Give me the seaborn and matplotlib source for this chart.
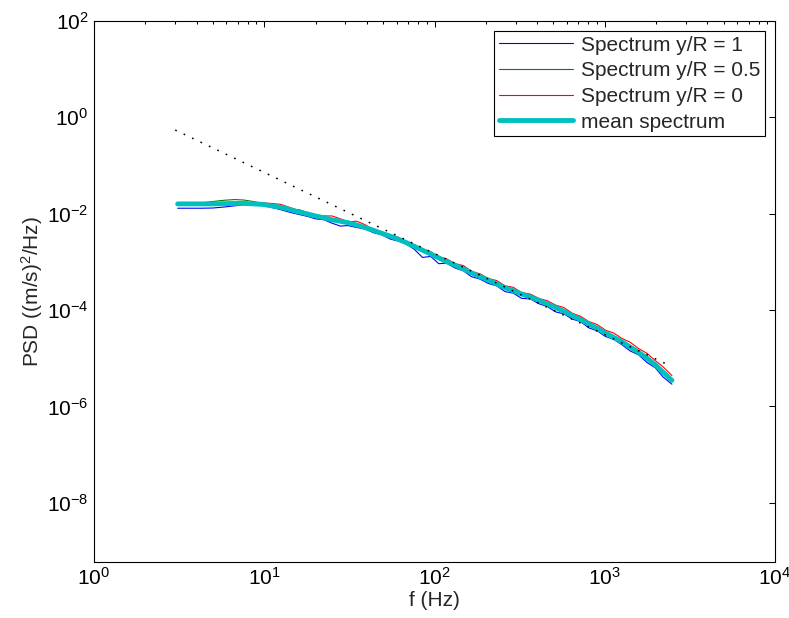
import matplotlib
matplotlib.use("Agg")
import matplotlib.pyplot as plt
import matplotlib.ticker as mticker
import numpy as np
import pandas as pd
import seaborn as sns

# ---- data ----
freq_hz = [3.1, 3.7, 4.3, 5.0, 5.8, 6.7, 7.6, 8.6, 9.8, 11,
           12.5, 14, 16, 18, 20, 22.5, 25, 28, 31, 35,
           39, 44, 49, 55, 61, 68, 76, 85, 95, 106,
           118, 132, 148, 165, 185, 207, 232, 260, 290, 325,
           365, 410, 460, 515, 575, 645, 720, 805, 900, 1010,
           1130, 1260, 1410, 1580, 1770, 1980, 2200, 2480]

# PSD values as log10 exponents
log_psd_yR1 = [-1.89, -1.89, -1.89, -1.885, -1.865, -1.84, -1.82, -1.81, -1.82, -1.87,
               -1.92, -1.97, -2.02, -2.06, -2.11, -2.13, -2.20, -2.26, -2.25, -2.29,
               -2.32, -2.40, -2.44, -2.53, -2.57, -2.63, -2.74, -2.91, -2.89, -3.04,
               -3.03, -3.13, -3.19, -3.31, -3.36, -3.45, -3.50, -3.62, -3.65, -3.76,
               -3.77, -3.87, -3.93, -4.04, -4.08, -4.19, -4.24, -4.37, -4.43, -4.55,
               -4.61, -4.72, -4.85, -4.93, -5.09, -5.20, -5.39, -5.54]
log_psd_yR05 = [-1.80, -1.80, -1.78, -1.75, -1.725, -1.71, -1.72, -1.75, -1.79, -1.85,
                -1.91, -1.93, -1.92, -1.98, -2.08, -2.11, -2.13, -2.14, -2.16, -2.22,
                -2.30, -2.35, -2.38, -2.46, -2.53, -2.58, -2.69, -2.74, -2.84, -2.89,
                -3.02, -3.05, -3.18, -3.20, -3.33, -3.36, -3.49, -3.51, -3.62, -3.65,
                -3.75, -3.76, -3.90, -3.93, -4.06, -4.09, -4.22, -4.27, -4.41, -4.46,
                -4.59, -4.65, -4.80, -4.86, -5.02, -5.13, -5.31, -5.46]
log_psd_yR0 = [-1.79, -1.79, -1.79, -1.80, -1.795, -1.79, -1.79, -1.79, -1.78, -1.79,
               -1.81, -1.87, -1.94, -2.00, -2.03, -2.05, -2.05, -2.11, -2.17, -2.16,
               -2.23, -2.34, -2.38, -2.45, -2.49, -2.59, -2.65, -2.74, -2.79, -2.90,
               -2.94, -3.04, -3.08, -3.20, -3.25, -3.35, -3.39, -3.50, -3.53, -3.64,
               -3.67, -3.76, -3.81, -3.90, -3.95, -4.07, -4.13, -4.24, -4.30, -4.42,
               -4.48, -4.59, -4.67, -4.80, -4.90, -5.05, -5.18, -5.36]
log_psd_mean = [-1.80, -1.80, -1.80, -1.80, -1.795, -1.79, -1.79, -1.80, -1.81, -1.84,
                -1.87, -1.91, -1.97, -2.01, -2.05, -2.09, -2.13, -2.16, -2.19, -2.24,
                -2.29, -2.35, -2.41, -2.47, -2.53, -2.60, -2.68, -2.76, -2.84, -2.92,
                -3.00, -3.07, -3.15, -3.23, -3.31, -3.38, -3.46, -3.54, -3.60, -3.67,
                -3.73, -3.80, -3.88, -3.95, -4.03, -4.12, -4.20, -4.29, -4.38, -4.48,
                -4.57, -4.66, -4.77, -4.88, -5.00, -5.14, -5.29, -5.46]

# -5/3 reference line endpoints
ref_freq = [3.0, 2350]
ref_psd = [0.54, 7.3e-6]

series_labels = ["Spectrum y/R = 1", "Spectrum y/R = 0.5",
                 "Spectrum y/R = 0", "mean spectrum"]
x_ticks = [1e0, 1e1, 1e2, 1e3, 1e4]
y_ticks = [1e-8, 1e-6, 1e-4, 1e-2, 1e0, 1e2]

# ---- style ----
sns.set_style("white")
plt.rcParams["font.family"] = ["Liberation Sans", "DejaVu Sans"]
plt.rcParams["mathtext.fontset"] = "custom"
plt.rcParams["mathtext.rm"] = "Liberation Sans"
plt.rcParams["mathtext.it"] = "Liberation Sans:italic"
plt.rcParams["mathtext.bf"] = "Liberation Sans:bold"
plt.rcParams["axes.unicode_minus"] = True

FS = 15
W, H = 789, 618
fig = plt.figure(figsize=(W / 100, H / 100), dpi=100)
ax = fig.add_axes([94 / W, 1 - 561.7 / H, (775 - 94) / W, (561.7 - 20.7) / H])

f_arr = np.array(freq_hz)
df = pd.DataFrame({
    "f": np.concatenate([f_arr] * 4),
    "psd": np.concatenate([10.0 ** np.array(v) for v in
                           (log_psd_yR1, log_psd_yR05, log_psd_yR0, log_psd_mean)]),
    "series": np.repeat(series_labels, len(f_arr)),
})

colors = ["#0000FF", "#007F00", "#FF0000", "#00BFBF"]
widths = [0.8, 0.8, 0.8, 3.5]
for lab, col, lw in zip(series_labels, colors, widths):
    sub = df[df["series"] == lab]
    sns.lineplot(data=sub, x="f", y="psd", ax=ax, color=col, lw=lw,
                 label=lab, estimator=None, sort=False)

ax.plot(ref_freq, ref_psd, color="black", lw=1.1, ls=(0, (1.1, 5.0)))

ax.set_xscale("log")
ax.set_yscale("log")
ax.set_xlim(1, 1e4)
ax.set_ylim(6.0e-10, 1e2)
ax.set_xticks(x_ticks)
ax.xaxis.set_minor_locator(mticker.LogLocator(base=10, subs=np.arange(2, 10)))
ax.xaxis.set_minor_formatter(mticker.NullFormatter())
ax.set_yticks(y_ticks)
ax.yaxis.set_minor_locator(mticker.NullLocator())

ax.tick_params(which="both", direction="in", top=True, right=True,
               labelsize=FS, colors="black", width=0.75)
ax.tick_params(which="major", length=4.5)
ax.tick_params(which="minor", length=2.5)
ax.tick_params(axis="x", which="major", pad=3.5)
ax.tick_params(axis="y", which="major", pad=4)
for sp in ax.spines.values():
    sp.set_visible(True)
    sp.set_color("black")
    sp.set_linewidth(0.8)

ax.set_xlabel("f (Hz)", fontsize=FS, labelpad=2)
ax.set_ylabel("PSD ((m/s)$^2$/Hz)", fontsize=FS, labelpad=1)

leg = ax.legend(loc="upper right", fontsize=FS, frameon=True, fancybox=False,
                edgecolor="black", framealpha=1, borderaxespad=0.5,
                handlelength=3.55, handletextpad=0.38, labelspacing=0.32,
                borderpad=0.22)
leg.get_frame().set_linewidth(0.8)

fig.savefig("out.png", dpi=100)
